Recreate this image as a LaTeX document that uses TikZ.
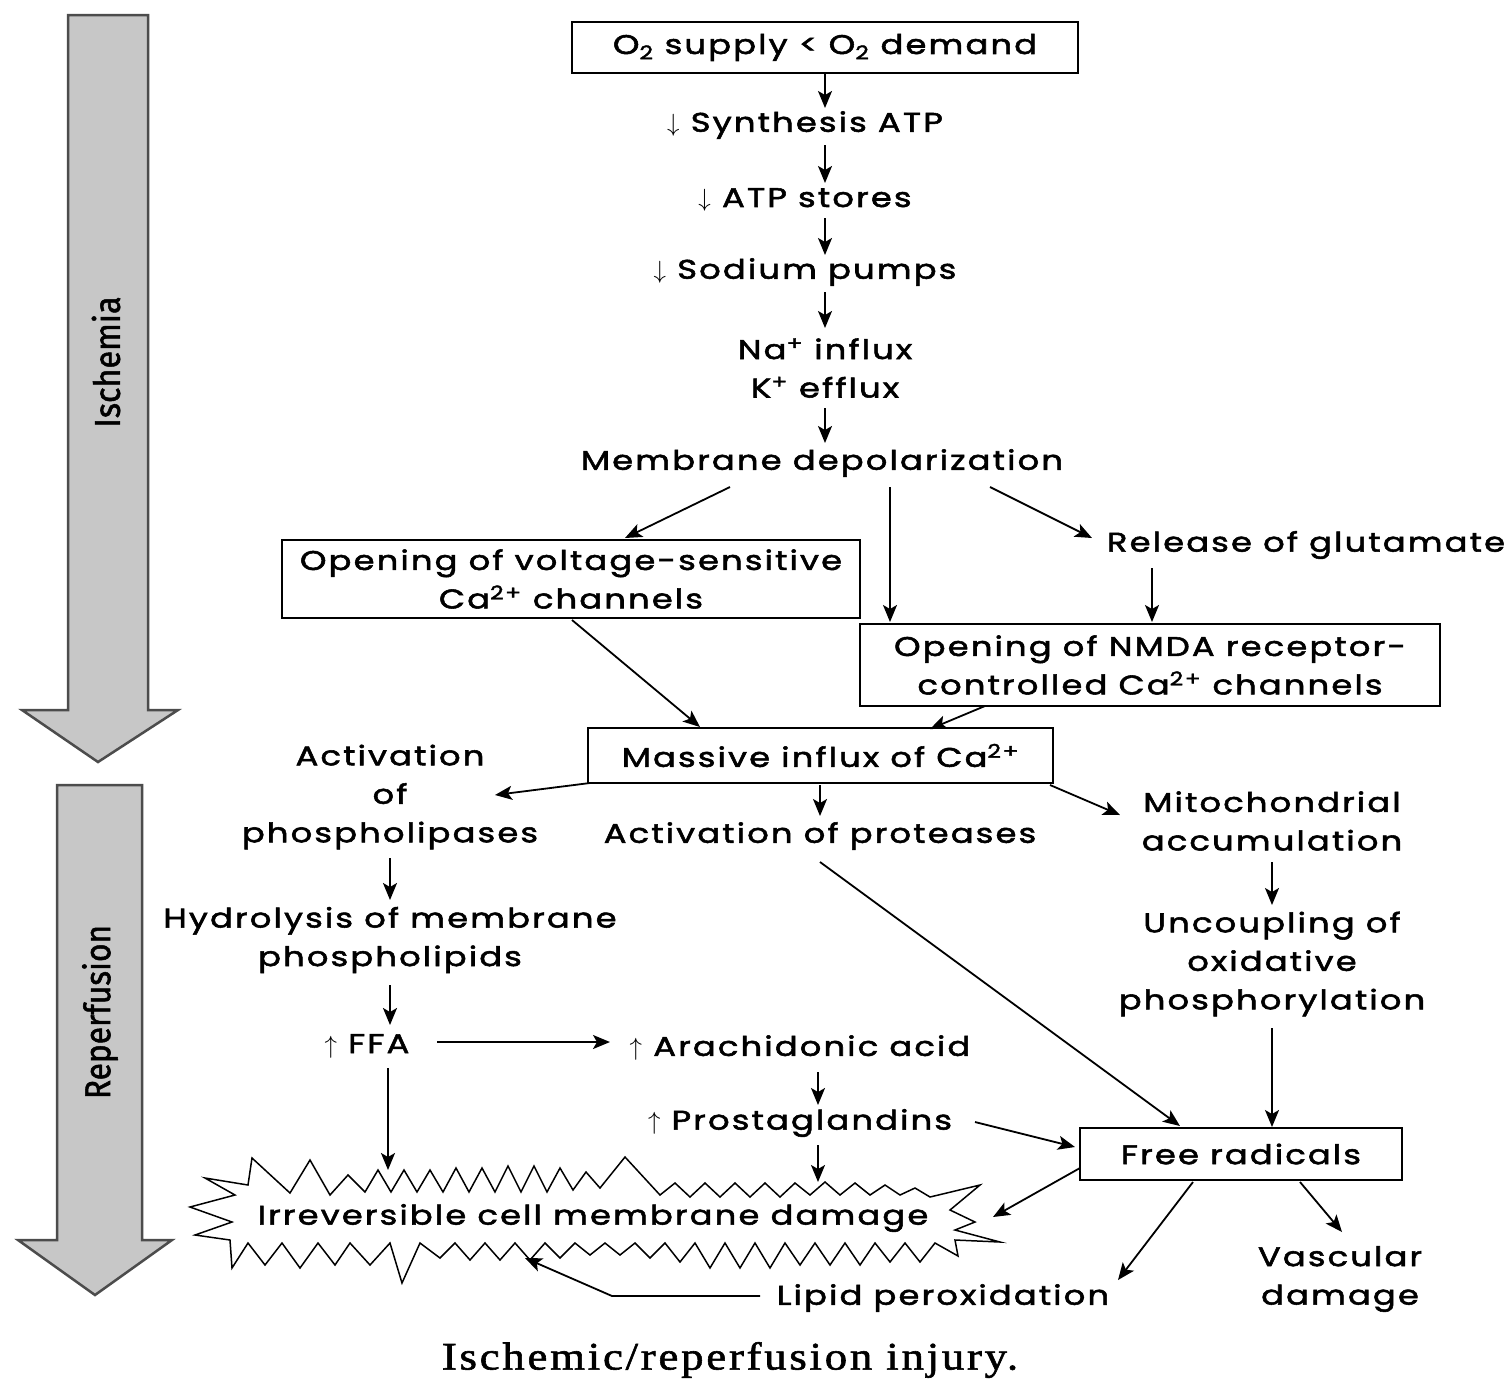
\documentclass[tikz,border=0pt]{standalone}
\usepackage{fontspec}
\setmainfont{Poppins}[FakeStretch=1.25, LetterSpace=8, FakeBold=2]
\newfontfamily\capfont{Liberation Serif}[FakeStretch=1.15, LetterSpace=7, FakeBold=1.5]
\newfontfamily\bandfont{Fira Sans}[FakeBold=1.5]
\usetikzlibrary{arrows.meta,calc}
\newcommand\fs{\fontsize{27}{38.5}\selectfont}
\begin{document}
\begin{tikzpicture}[x=1pt,y=-1pt,
  lbl/.style={font=\fs, align=center, inner sep=0pt},
  bx/.style={draw, line width=1.6pt, font=\fs, align=center, inner sep=0pt},
  arr/.style={line width=1.8pt, -{Stealth[length=17pt,width=14pt,inset=4pt]}},
  band/.style={fill=black!22, draw=black!70, line width=2.5pt, line join=miter},
  bandlbl/.style={font=\bandfont\fontsize{36}{36}\selectfont, rotate=90, inner sep=0pt}]
\fill[white] (0,0) rectangle (1512,1382);
\useasboundingbox (0,0) rectangle (1512,1382);

% side bands
\draw[band] (68,15) -- (148,15) -- (148,710) -- (178,710) -- (98,762) -- (22,710) -- (68,710) -- cycle;
\draw[band] (57,785) -- (142,785) -- (142,1240) -- (172,1240) -- (95,1295) -- (18,1240) -- (57,1240) -- cycle;
\node[bandlbl] (isch) at (106,362) {\scalebox{0.9}[1]{Ischemia}};
\node[bandlbl] (reper) at (100,1012) {\scalebox{0.88}[1]{Reperfusion}};

% jagged damage shape
\draw[line width=1.5pt, line join=miter, fill=white]
 (190,1207) -- (235,1195) -- (205,1178) -- (248,1185) -- (252,1158) -- (290,1193) -- (310,1160) -- (330,1195)
 -- (348,1175) -- (365,1192) -- (378,1170) -- (391,1192) -- (404,1170) -- (417,1192) -- (430,1170) -- (443,1192)
 -- (456,1168) -- (469,1192) -- (482,1168) -- (495,1192) -- (508,1166) -- (521,1192) -- (534,1166) -- (547,1192)
 -- (560,1168) -- (573,1190) -- (586,1172) -- (600,1188) -- (625,1157) -- (660,1195) -- (675,1183) -- (690,1197)
 -- (705,1183) -- (720,1197) -- (735,1183) -- (750,1197) -- (765,1183) -- (780,1197) -- (795,1183) -- (810,1195)
 -- (825,1182) -- (840,1195) -- (855,1183) -- (870,1195) -- (885,1185) -- (900,1195) -- (915,1188) -- (930,1197)
 -- (980,1185) -- (950,1210) -- (975,1222) -- (955,1230) -- (1000,1242) -- (955,1240) -- (958,1256) -- (935,1243)
 -- (920,1262) -- (905,1243) -- (890,1262) -- (875,1243) -- (860,1265) -- (845,1243) -- (830,1265) -- (815,1243)
 -- (800,1265) -- (785,1243) -- (770,1268) -- (755,1243) -- (740,1268) -- (725,1243) -- (710,1268) -- (695,1243)
 -- (680,1262) -- (665,1243) -- (650,1258) -- (635,1243) -- (620,1255) -- (605,1243) -- (590,1255) -- (575,1243)
 -- (560,1258) -- (545,1243) -- (530,1260) -- (515,1243) -- (500,1260) -- (485,1243) -- (470,1260) -- (455,1243)
 -- (440,1258) -- (420,1243) -- (402,1283) -- (390,1243) -- (370,1265) -- (350,1243) -- (335,1265) -- (318,1243)
 -- (300,1268) -- (282,1243) -- (265,1265) -- (248,1243) -- (232,1268) -- (230,1240) -- (195,1235) -- (232,1222) -- cycle;

% boxes
\node[bx, minimum width=506, minimum height=51] (o2) at (825,47.5) {O\textsubscript{2} supply < O\textsubscript{2} demand};
\node[bx, minimum width=578, minimum height=78] (volt) at (571,579) {Opening of voltage-sensitive\\Ca\textsuperscript{2+} channels};
\node[bx, minimum width=580, minimum height=82] (nmda) at (1150,665) {Opening of NMDA receptor-\\controlled Ca\textsuperscript{2+} channels};
\node[bx, minimum width=465, minimum height=55] (mass) at (820.5,755.5) {Massive influx of Ca\textsuperscript{2+}};
\node[bx, minimum width=322, minimum height=52] (fr) at (1241,1154) {Free radicals};

% text nodes
\node[lbl] (syn) at (805,125) {$\downarrow$ Synthesis ATP};
\node[lbl] (atp) at (805,200) {$\downarrow$ ATP stores};
\node[lbl] (sod) at (805,272) {$\downarrow$ Sodium pumps};
\node[lbl] (na) at (825,368) {Na\textsuperscript{+} influx\\K\textsuperscript{+} efflux};
\node[lbl] (dep) at (822,463) {Membrane depolarization};
\node[lbl] (glu) at (1306,545) {Release of glutamate};
\node[lbl] (phos) at (390,797) {Activation\\of\\phospholipases};
\node[lbl] (prot) at (820,836) {Activation of proteases};
\node[lbl] (mito) at (1272,821) {Mitochondrial\\accumulation};
\node[lbl] (hyd) at (390,940) {Hydrolysis of membrane\\phospholipids};
\node[lbl] (ffa) at (367,1046) {$\uparrow$ FFA};
\node[lbl] (ara) at (800,1048) {$\uparrow$ Arachidonic acid};
\node[lbl] (pro) at (800,1123) {$\uparrow$ Prostaglandins};
\node[lbl] (unc) at (1272,964) {Uncoupling of\\oxidative\\phosphorylation};
\node[lbl] (lip) at (943,1298) {Lipid peroxidation};
\node[lbl] (vas) at (1340,1279) {Vascular\\damage};
\node[lbl] (irr) at (593,1218) {Irreversible cell membrane damage};
\node[font=\capfont\fontsize{39}{39}\selectfont, inner sep=0pt] (cap) at (730,1360) {Ischemic/reperfusion injury.};

% connectors
\draw[arr] ($(o2)+(0,25.5)$) -- ($(syn)+(20,-17)$);
\draw[arr] ($(syn)+(20,20)$) -- ($(atp)+(20,-17)$);
\draw[arr] ($(atp)+(20,18)$) -- ($(sod)+(20,-17)$);
\draw[arr] ($(sod)+(20,20)$) -- ($(na)+(0,-40)$);
\draw[arr] ($(na)+(0,40)$) -- ($(dep)+(3,-20)$);
\draw[arr] ($(dep)+(-92,24)$) -- ($(volt)+(54,-41)$);
\draw[arr] ($(dep)+(68,24)$) -- ($(nmda)+(-260,-43)$);
\draw[arr] ($(dep)+(168,24)$) -- ($(glu)+(-214,-7)$);
\draw[arr] ($(glu)+(-154,23)$) -- ($(nmda)+(2,-43)$);
\draw[arr] ($(volt)+(1,41)$) -- ($(mass)+(-120.5,-28.5)$);
\draw[arr] ($(nmda)+(-165,41)$) -- ($(mass)+(109.5,-26.5)$);
\draw[arr] ($(mass)+(-230.5,27.5)$) -- ($(phos)+(105,-2)$);
\draw[arr] ($(mass)+(-0.5,29.5)$) -- ($(prot)+(0,-20)$);
\draw[arr] ($(mass)+(229.5,29.5)$) -- ($(mito)+(-152,-6)$);
\draw[arr] ($(phos)+(0,61)$) -- ($(hyd)+(0,-40)$);
\draw[arr] ($(hyd)+(0,45)$) -- ($(ffa)+(23,-21)$);
\draw[arr] ($(ffa)+(70,-4)$) -- ($(ara)+(-190,-6)$);
\draw[arr] ($(ffa)+(21,22)$) -- ($(irr)+(-205,-48)$);
\draw[arr] ($(ara)+(18,24)$) -- ($(pro)+(18,-18)$);
\draw[arr] ($(pro)+(18,22)$) -- ($(irr)+(225,-36)$);
\draw[arr] ($(prot)+(0,26)$) -- ($(fr)+(-61,-28)$);
\draw[arr] ($(mito)+(0,41)$) -- ($(unc)+(0,-59)$);
\draw[arr] ($(unc)+(0,64)$) -- ($(fr)+(31,-27)$);
\draw[arr] ($(pro)+(175,-1)$) -- ($(fr)+(-166,-7)$);
\draw[arr] ($(fr)+(-161,14)$) -- ($(irr)+(400,-1)$);
\draw[arr] ($(fr)+(-48,28)$) -- ($(lip)+(175,-18)$);
\draw[arr] ($(fr)+(59,28)$) -- ($(vas)+(2,-47)$);
\draw[arr] ($(lip)+(-183,-2)$) -- ++(-148,0) -- ($(irr)+(-68,40)$);
\end{tikzpicture}
\end{document}
